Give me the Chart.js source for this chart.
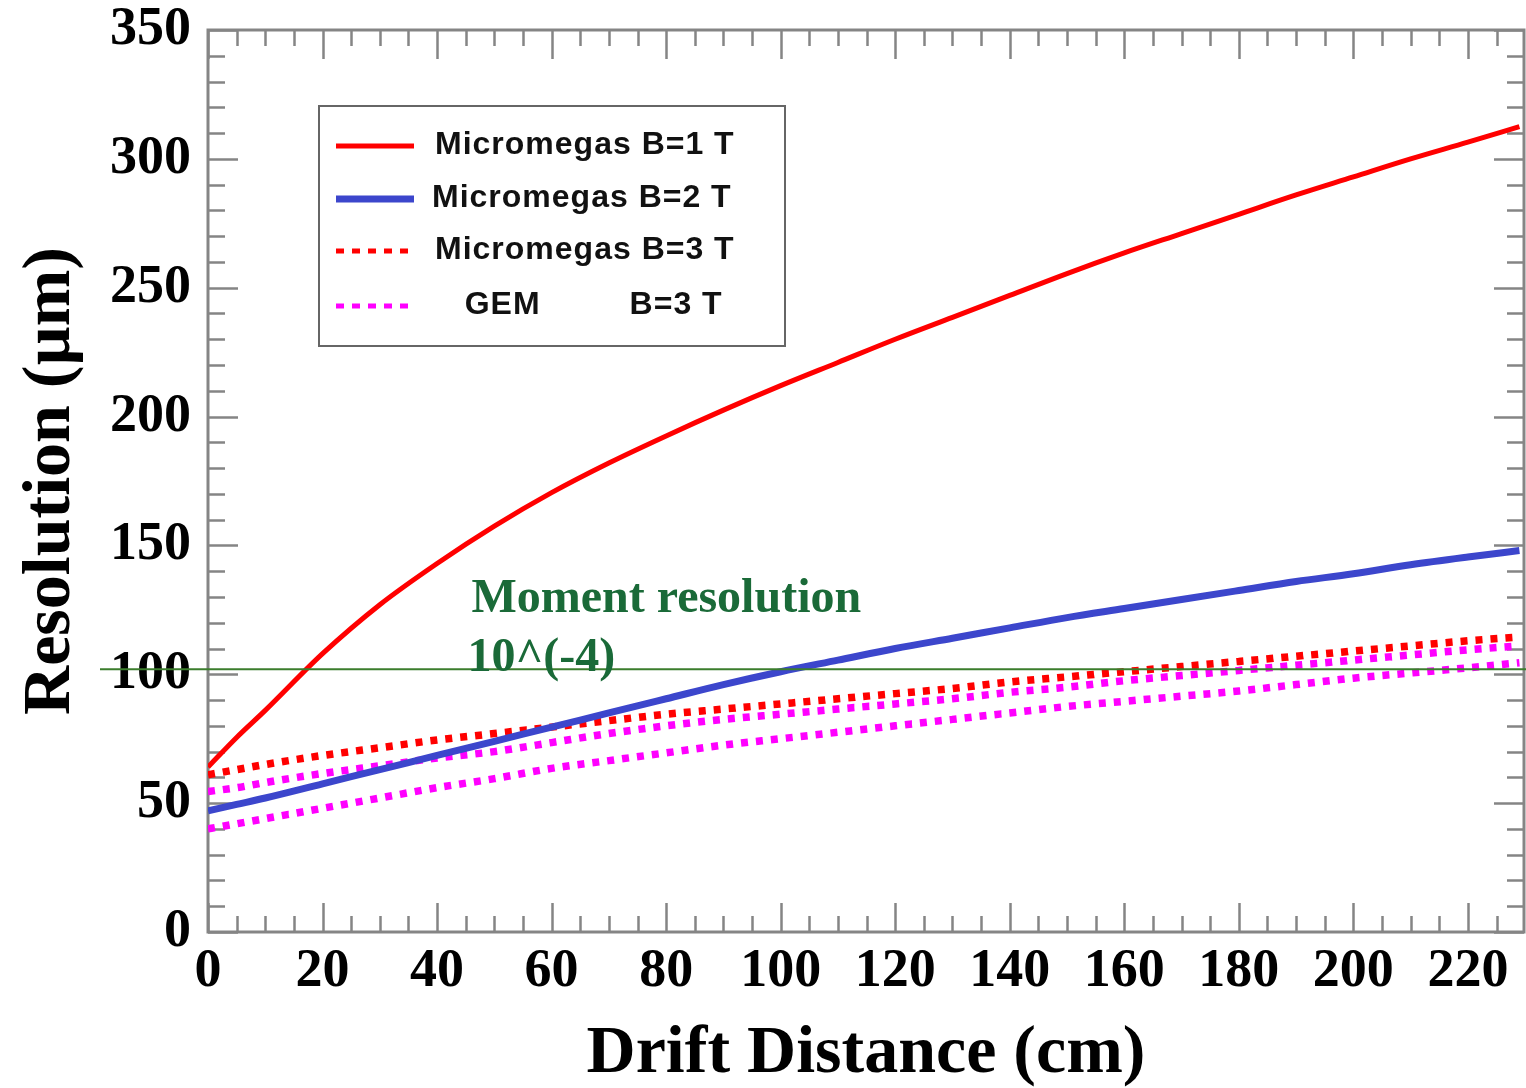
<!DOCTYPE html>
<html><head><meta charset="utf-8">
<script src="https://cdn.jsdelivr.net/npm/chart.js@4"></script>
<style>html,body{margin:0;padding:0;background:#fff;overflow:hidden}</style>
</head><body>
<canvas id="c" width="1526" height="1088"></canvas>
<script>
// ---- data ----
const driftCm = [0,5,10,20,30,40,50,60,70,80,90,100,110,120,130,140,150,160,170,180,190,200,210,220,229];
const mmB1 = [64,75.5,86,108,127,143,157.5,170.5,182,192.5,202.5,212,221,230,238.5,247,255.5,263.5,271,278.5,286,293,300,306.5,312.5];
const mmB2 = [47,49.5,52,57.5,63,68.5,74,79.5,85,90.5,96,101,105.5,110,114,118,122,125.5,129,132.5,136,139,142.5,145.5,148];
const mmB3 = [61,63,65,68.5,71.5,74.5,77,79.5,82,84.5,86.5,88.5,90.5,92.5,94.5,97,99,101,103,105,107,109,111,113,114.5];
const gemB3a = [54.5,56,58,61.5,64.5,67.5,70,73.5,77,80,82.5,84.5,86.5,88.5,90.5,93,95,97.5,99.5,101.5,103.5,105.5,107.5,109.5,111];
const gemB3b = [40,42,44,48,52,56,59.5,63.5,66.5,69.5,72.5,75,77.5,80,82.5,85,87.5,89.5,91.5,93.5,96,98.5,100.5,102.5,104.5];
const seriesLabels = ['Micromegas B=1 T','Micromegas B=2 T','Micromegas B=3 T','   GEM         B=3 T'];
const xTickValues = [0,20,40,60,80,100,120,140,160,180,200,220];
const yTickValues = [0,50,100,150,200,250,300,350];
const xRange = [0, 229.8];
const yRange = [0, 350];
const momentRes = 102;
const noteLines = ['Moment resolution', '10^(-4)'];
const noteX = 46;
const noteY = [124, 102];
const xTitle = 'Drift Distance (cm)';
const yTitle = 'Resolution (\u00b5m)';

const pts = (ys) => driftCm.map((x, i) => ({x, y: ys[i]}));

const RED = '#ff0000', BLUE = '#3c46cc', MAG = '#ff00ff';
const datasets = [
  {label: seriesLabels[0], data: pts(mmB1), borderColor: RED, borderWidth: 5, legend: true},
  {label: seriesLabels[1], data: pts(mmB2), borderColor: BLUE, borderWidth: 7, legend: true},
  {label: seriesLabels[2], data: pts(mmB3), borderColor: RED, borderWidth: 7.5, borderDash: [7, 8], legend: true},
  {label: seriesLabels[3], data: pts(gemB3a), borderColor: MAG, borderWidth: 7.5, borderDash: [7, 8], legend: true},
  {label: seriesLabels[3], data: pts(gemB3b), borderColor: MAG, borderWidth: 7.5, borderDash: [7, 8], legend: false}
].map(d => Object.assign({pointRadius: 0, fill: false, cubicInterpolationMode: 'monotone', borderCapStyle: 'butt'}, d));

const FRAME = '#858585';
const framePlugin = {
  id: 'frame',
  beforeDatasetsDraw(chart) {
    const {ctx, chartArea: a, scales: {x, y}} = chart;
    ctx.save();
    ctx.strokeStyle = FRAME;
    ctx.lineWidth = 2.5;
    const seg = (x1, y1, x2, y2) => { ctx.beginPath(); ctx.moveTo(x1, y1); ctx.lineTo(x2, y2); ctx.stroke(); };
    for (let v = 0; v <= xRange[1]; v += 5) {
      const p = Math.round(x.getPixelForValue(v)) + 0.5;
      const L = v % 20 === 0 ? 29 : 16;
      seg(p, a.bottom, p, a.bottom - L);
      seg(p, a.top, p, a.top + L);
    }
    for (let v = 0; v <= yRange[1]; v += 10) {
      const p = Math.round(y.getPixelForValue(v)) + 0.5;
      const L = v % 50 === 0 ? 30 : 17;
      seg(a.left, p, a.left + L, p);
      seg(a.right, p, a.right - L, p);
    }
    ctx.lineWidth = 3;
    ctx.strokeRect(a.left, a.top, a.right - a.left, a.bottom - a.top);
    ctx.restore();
  },
  afterDatasetsDraw(chart) {
    const {ctx, chartArea: a, scales: {x, y}} = chart;
    ctx.save();
    // threshold line
    const py = y.getPixelForValue(momentRes);
    ctx.strokeStyle = '#3b7d2c';
    ctx.lineWidth = 2;
    ctx.beginPath(); ctx.moveTo(a.left - 108, py); ctx.lineTo(chart.width, py); ctx.stroke();
    ctx.fillStyle = '#1a6a38';
    ctx.font = 'bold 48px "Liberation Serif"';
    ctx.textBaseline = 'alphabetic';
    ctx.textAlign = 'left';
    ctx.fillText(noteLines[0], x.getPixelForValue(noteX), y.getPixelForValue(noteY[0]));
    ctx.fillText(noteLines[1], x.getPixelForValue(noteX) - 4, y.getPixelForValue(noteY[1]) + 2);

    // legend
    const bx = a.left + 111, by = a.top + 76, bw = 466, bh = 240;
    ctx.fillStyle = '#fff';
    ctx.fillRect(bx, by, bw, bh);
    ctx.strokeStyle = '#666';
    ctx.lineWidth = 2;
    ctx.strokeRect(bx, by, bw, bh);
    const rows = [40, 93, 145, 200];
    const items = chart.data.datasets.filter(d => d.legend);
    ctx.font = 'bold 32px "Liberation Sans"';
    try { ctx.letterSpacing = '1px'; } catch (e) {}
    ctx.textBaseline = 'middle';
    items.forEach((d, i) => {
      const ry = by + rows[i];
      ctx.save();
      ctx.strokeStyle = d.borderColor;
      ctx.lineWidth = i === 1 ? 7 : 5;
      ctx.setLineDash(d.borderDash ? [8, 8] : []);
      ctx.beginPath(); ctx.moveTo(bx + 17, ry); ctx.lineTo(bx + 95, ry); ctx.stroke();
      ctx.restore();
      ctx.fillStyle = '#111';
      ctx.fillText(d.label, bx + (i === 1 ? 113 : 116), ry - 1);
    });
    ctx.restore();
  }
};

const serif = 'Liberation Serif';
new Chart(document.getElementById('c'), {
  type: 'line',
  data: {datasets},
  options: {
    responsive: false, animation: false, devicePixelRatio: 1,
    layout: {padding: {top: 30, right: 2, left: 0, bottom: 0}},
    plugins: {legend: {display: false}, tooltip: {enabled: false}},
    scales: {
      x: {
        type: 'linear', min: xRange[0], max: xRange[1],
        afterBuildTicks: s => { s.ticks = xTickValues.map(v => ({value: v})); },
        afterFit: s => { s.height = 156; s.paddingLeft = 0; s.paddingRight = 0; },
        grid: {display: false, drawTicks: false}, border: {display: false},
        ticks: {font: {family: serif, weight: 'bold', size: 54, lineHeight: 1}, color: '#000', padding: 13, maxRotation: 0, autoSkip: false},
        title: {display: true, text: xTitle, font: {family: serif, weight: 'bold', size: 68, lineHeight: 1}, color: '#000', padding: {top: -4, bottom: 0}}
      },
      y: {
        type: 'linear', min: yRange[0], max: yRange[1],
        afterBuildTicks: s => { s.ticks = yTickValues.map(v => ({value: v})); },
        afterFit: s => { s.width = 208; s.paddingTop = 0; s.paddingBottom = 0; },
        grid: {display: false, drawTicks: false}, border: {display: false},
        ticks: {font: {family: serif, weight: 'bold', size: 54, lineHeight: 1}, color: '#000', padding: 17, autoSkip: false},
        title: {display: true, text: yTitle, font: {family: serif, weight: 'bold', size: 68, lineHeight: 1}, color: '#000', padding: {top: 17, bottom: 0}}
      }
    }
  },
  plugins: [framePlugin]
});
</script>
</body></html>
